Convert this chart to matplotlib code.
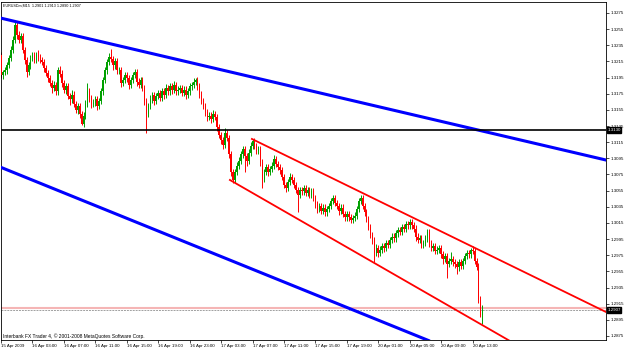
import matplotlib
matplotlib.use("Agg")
import matplotlib.pyplot as plt
import matplotlib.transforms as mtransforms
import numpy as np

plt.rcParams['font.family'] = ['Liberation Sans', 'DejaVu Sans']

chart_title = "EURUSDm,M15  1.2901 1.2913 1.2890 1.2907"
footer_text = "Interbank FX Trader 4, \u00a9 2001-2008 MetaQuotes Software Corp."

# prices stored as pips above 1.2800
first_open_pips = 423
close_pips = [
    398, 402, 404, 410, 419, 429, 442, 460, 448, 442,
    446, 429, 417, 402, 410, 419, 423, 417, 423, 420,
    417, 414, 407, 401, 394, 388, 382, 386, 378, 404,
    400, 388, 380, 384, 372, 368, 374, 362, 355, 360,
    350, 338, 348, 362, 378, 370, 362, 364, 368, 360, 366,
    378, 392, 404, 414, 420, 418, 410, 415, 404, 404,
    388, 392, 398, 394, 386, 392, 398, 402, 390, 386,
    392, 382, 366, 350, 360, 368, 373, 366, 372, 376,
    370, 378, 374, 382, 378, 384, 380, 386, 378, 380, 382,
    376, 380, 374, 378, 384, 386, 390, 392, 384, 374,
    366, 360, 352, 346, 348, 344, 350, 346, 334, 324,
    318, 312, 326, 320, 300, 278, 268, 278, 286, 292,
    300, 306, 298, 292, 302, 310, 316, 310, 304, 306,
    290, 270, 278, 284, 278, 282, 286, 294, 288, 284, 280,
    272, 262, 258, 266, 272, 268, 262, 256, 250, 256,
    254, 258, 252, 256, 250, 254, 246, 238, 232, 236,
    230, 234, 228, 232, 236, 242, 246, 240, 236, 230,
    234, 226, 222, 226, 222, 219, 221, 224, 232, 242, 246,
    236, 228, 220, 210, 200, 194, 178, 184, 178, 182,
    186, 184, 190, 188, 194, 198, 196, 202, 206, 204,
    210, 208, 214, 212, 216, 212, 208, 198, 194, 196,
    188, 190, 196, 204, 190, 184, 186, 180, 182, 184, 176,
    170, 174, 164, 168, 170, 166, 164, 160, 166, 162,
    168, 174, 178, 176, 182, 180, 168, 161, 120, 101,
    107,
]
upper_wick_pips = [
    4, 3, 4, 4, 4, 5, 4, 5, 4, 5,
    4, 4, 4, 3, 4, 4, 4, 4, 4, 6,
    4, 4, 4, 4, 4, 4, 4, 5, 4, 4,
    5, 4, 4, 4, 4, 4, 5, 4, 4, 4,
    4, 4, 4, 5, 10, 4, 4, 4, 4, 4, 4,
    4, 4, 4, 4, 5, 10, 4, 4, 4, 4,
    4, 4, 4, 4, 4, 4, 4, 4, 4, 4,
    4, 4, 4, 4, 4, 5, 4, 4, 4, 4,
    4, 4, 4, 5, 4, 4, 4, 5, 4, 4, 4,
    4, 4, 4, 4, 4, 4, 4, 3, 4, 4,
    4, 4, 4, 4, 4, 4, 5, 4, 4, 4,
    4, 4, 7, 4, 4, 4, 4, 4, 4, 5,
    4, 4, 4, 4, 4, 5, 3, 4, 4, 4,
    4, 4, 4, 4, 4, 4, 5, 5, 4, 4, 4,
    4, 4, 4, 4, 5, 4, 4, 4, 4, 4,
    4, 4, 4, 4, 4, 4, 4, 4, 4, 4,
    4, 4, 4, 4, 4, 4, 4, 4, 4, 4,
    4, 4, 4, 4, 4, 4, 4, 4, 4, 4, 4,
    4, 4, 4, 4, 4, 4, 4, 5, 4, 4,
    4, 4, 4, 4, 4, 4, 4, 4, 4, 4,
    4, 4, 3, 4, 4, 4, 4, 4, 4, 4,
    4, 4, 4, 3, 4, 4, 4, 4, 4, 4, 4,
    4, 4, 4, 4, 9, 4, 4, 4, 4, 4,
    4, 4, 4, 4, 2, 4, 4, 4, 4, 4,
    6,
]
lower_wick_pips = [
    4, 5, 4, 4, 3, 4, 4, 4, 5, 4,
    4, 4, 5, 6, 4, 4, 4, 4, 4, 4,
    4, 4, 5, 4, 5, 4, 6, 4, 5, 4,
    4, 5, 4, 5, 4, 7, 4, 4, 4, 5,
    5, 2, 4, 4, 4, 5, 5, 4, 4, 5, 4,
    4, 4, 4, 4, 4, 4, 5, 4, 5, 4,
    5, 4, 4, 5, 5, 4, 4, 4, 5, 4,
    4, 4, 5, 24, 4, 4, 4, 5, 4, 4,
    4, 4, 5, 4, 4, 4, 5, 4, 4, 4, 4,
    4, 4, 5, 4, 4, 4, 4, 4, 4, 4,
    4, 4, 4, 5, 4, 5, 4, 4, 5, 4,
    5, 6, 4, 4, 4, 5, 4, 4, 4, 4,
    4, 4, 20, 6, 4, 4, 4, 4, 4, 4,
    4, 12, 4, 4, 5, 4, 4, 4, 4, 4, 4,
    4, 4, 5, 4, 4, 4, 4, 4, 21, 4,
    4, 4, 4, 4, 4, 4, 4, 4, 5, 4,
    4, 4, 4, 4, 4, 4, 4, 4, 4, 5,
    4, 4, 5, 4, 5, 4, 4, 4, 4, 4, 4,
    4, 4, 4, 4, 4, 5, 11, 4, 5, 4,
    4, 5, 4, 4, 4, 4, 4, 4, 4, 4,
    4, 4, 4, 4, 4, 4, 4, 5, 4, 4,
    4, 4, 4, 4, 5, 4, 4, 4, 4, 4, 4,
    6, 4, 17, 4, 4, 4, 5, 8, 4, 4,
    4, 4, 4, 4, 4, 4, 4, 4, 4, 3,
    11,
]

time_labels = ["15 Apr 2009", "16 Apr 03:00", "16 Apr 07:00", "16 Apr 11:00",
               "16 Apr 15:00", "16 Apr 19:00", "16 Apr 23:00", "17 Apr 03:00",
               "17 Apr 07:00", "17 Apr 11:00", "17 Apr 15:00", "17 Apr 19:00",
               "20 Apr 01:00", "20 Apr 05:00", "20 Apr 09:00", "20 Apr 13:00"]
bars_per_label = 16

# trend line anchors as (bar, price)
blue_upper = [(0, 1.32686), (300, 1.30974)]
blue_lower = [(0, 1.30838), (200, 1.28867)]
red_upper = [(127.7, 1.31190), (300, 1.29141)]
red_lower = [(116.5, 1.30682), (240, 1.28954)]
level_price = 1.3130
ask_price = 1.29095
bid_price = 1.2907

close = 1.28 + np.array(close_pips) / 10000
opens = np.concatenate([[1.28 + first_open_pips / 10000], close[:-1]])
highs = np.maximum(opens, close) + np.array(upper_wick_pips) / 10000
lows = np.minimum(opens, close) - np.array(lower_wick_pips) / 10000
idx = np.arange(len(close))
bull = close >= opens

fig = plt.figure(figsize=(6.25, 3.49), dpi=100)
ax = fig.add_axes([0.0008, 0.02436, 0.9688, 0.9713])
ax.set_xlim(-0.25, 307.9)
ax.set_ylim(1.28694, 1.32892)

green = '#00a000'
red = '#ff0000'
colors = np.where(bull, green, red)
ax.vlines(idx, lows, highs, colors=colors, linewidth=0.7, zorder=2)
body_h = np.maximum(np.abs(close - opens), 0.00004)
ax.bar(idx, body_h, bottom=np.minimum(opens, close), width=0.8,
       color=colors, linewidth=0, zorder=3)


def ray(p1, p2, x_end):
    (x1, y1), (x2, y2) = p1, p2
    k = (y2 - y1) / (x2 - x1)
    return [x1, x_end], [y1, y1 + k * (x_end - x1)]


ax.axline(blue_upper[0], blue_upper[1], color='#0000ff', linewidth=2.2, zorder=4)
ax.axline(blue_lower[0], blue_lower[1], color='#0000ff', linewidth=2.2, zorder=4)
xs, ys = ray(red_upper[0], red_upper[1], 320)
ax.plot(xs, ys, color=red, linewidth=1.3, zorder=4)
xs, ys = ray(red_lower[0], red_lower[1], 320)
ax.plot(xs, ys, color=red, linewidth=1.3, zorder=4)
ax.axhline(level_price, color='black', linewidth=1.2, zorder=4)
ax.axhline(ask_price, color='#f5b5b5', linewidth=1.5, zorder=1)
ax.axhline(bid_price, color='#a0a0a0', linewidth=0.7, linestyle=(0, (2, 1)), zorder=1)

# axes styling
for sp in ax.spines.values():
    sp.set_linewidth(0.6)
    sp.set_color('black')
ax.yaxis.tick_right()
price_ticks = np.round(np.arange(1.2875, 1.32751, 0.0020), 4)
ax.set_yticks(price_ticks)
ax.set_yticklabels([f"{p:.4f}" for p in price_ticks])
ax.tick_params(axis='y', labelsize=3.2, length=2, width=0.5, pad=1)
ax.set_xticks(np.arange(len(time_labels)) * bars_per_label)
ax.set_xticklabels(time_labels, ha='left')
ax.tick_params(axis='x', labelsize=3.2, length=2, width=0.5, pad=0.8)

blend = mtransforms.blended_transform_factory(ax.transAxes, ax.transData)
box = dict(boxstyle='square,pad=0.15', fc='black', ec='black')
ax.text(1.002, level_price, f"{level_price:.4f}", transform=blend, ha='left',
        va='center', fontsize=3.2, color='white', bbox=box, zorder=6, clip_on=False)
ax.text(1.002, bid_price, f"{bid_price:.4f}", transform=blend, ha='left',
        va='center', fontsize=3.2, color='white', bbox=box, zorder=6, clip_on=False)

ax.text(0.004, 0.988, chart_title, transform=ax.transAxes, ha='left', va='center',
        fontsize=2.7, color='black')
ax.text(0.004, 0.013, footer_text, transform=ax.transAxes, ha='left', va='center',
        fontsize=3.5, color='black')

fig.savefig('out.png', dpi=100)
